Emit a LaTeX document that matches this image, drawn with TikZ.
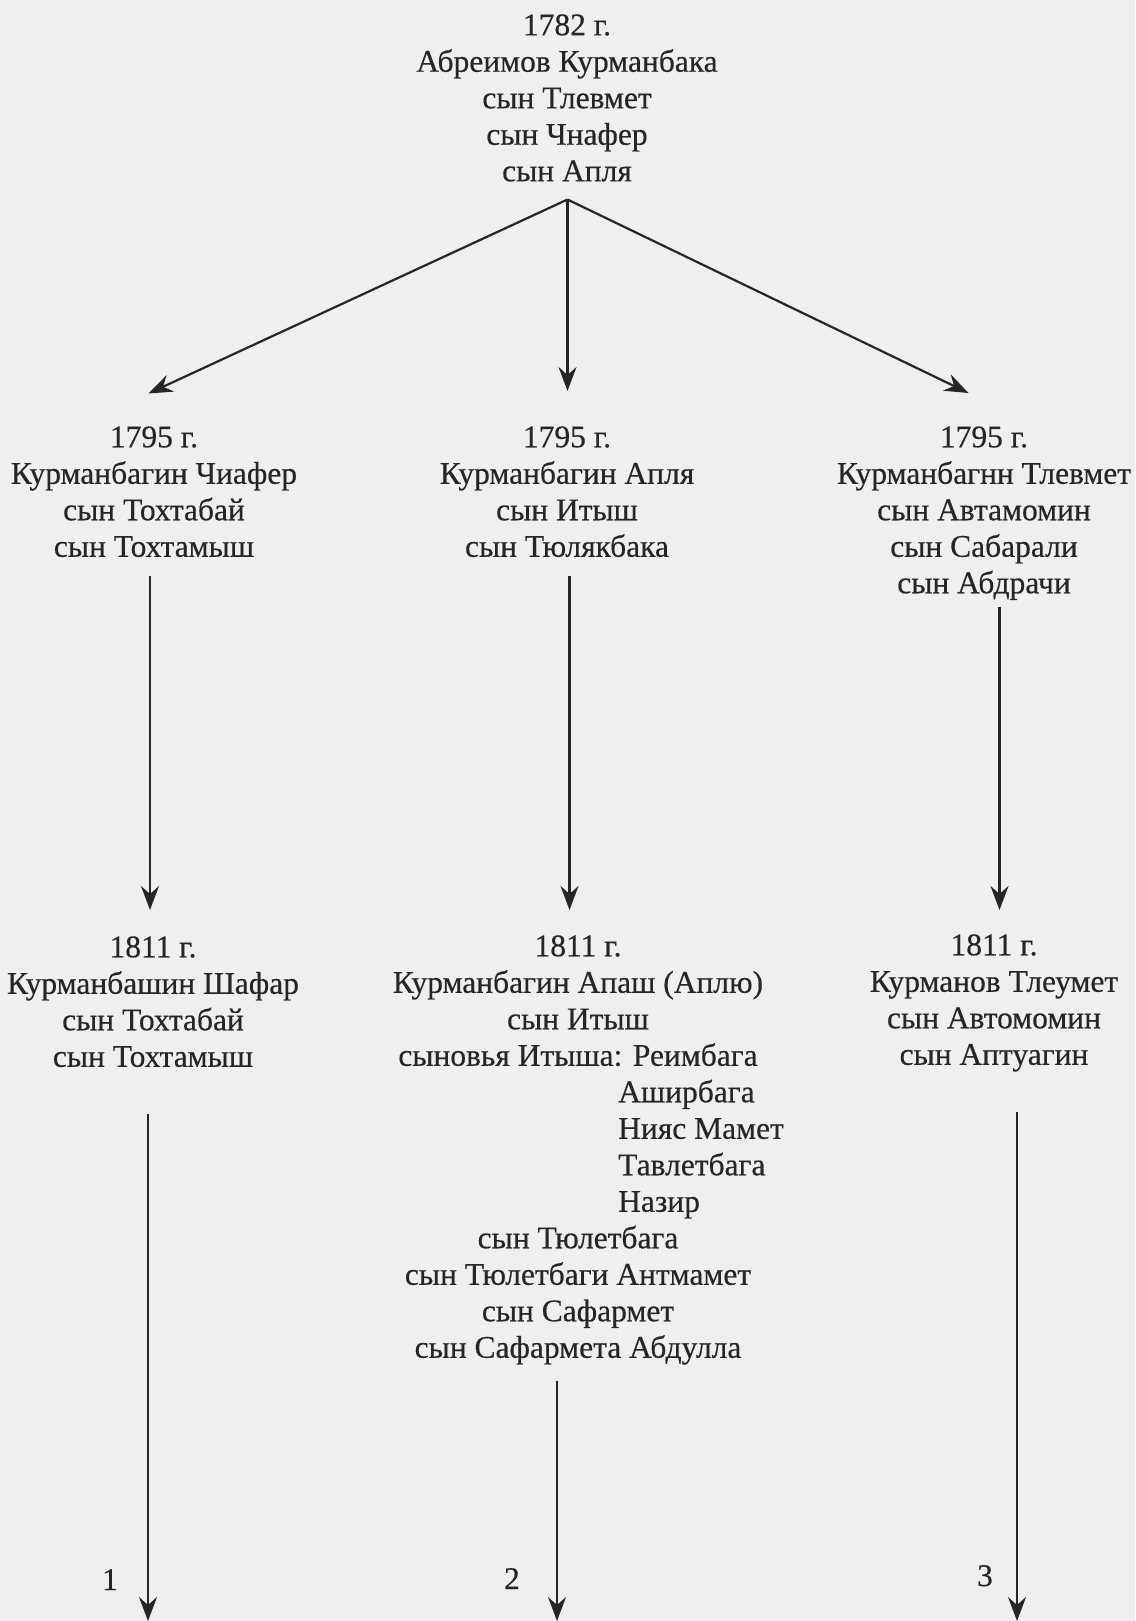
\documentclass[tikz,border=0pt]{standalone}
\usepackage{fontspec}
\setmainfont{Liberation Serif}[FakeBold=0.4]
\usetikzlibrary{arrows.meta}
\definecolor{bg}{HTML}{EFEFEF}
\definecolor{ink}{HTML}{262626}
\newcommand\fz{\fontsize{31.5}{36.5}\selectfont}
\tikzset{
 txt/.style={inner sep=0pt, anchor=north, align=center, font=\fz, text=ink},
 lbl/.style={inner sep=0pt, anchor=base, font=\fz, text=ink},
 arr/.style={draw=ink, line width=2.2pt, -{Stealth[length=24pt,width=18pt,inset=8pt]}},
}
\begin{document}
\begin{tikzpicture}[x=1pt,y=-1pt]
\fill[bg] (0,0) rectangle (1135,1621);
\useasboundingbox (0,0) rectangle (1135,1621);

\node[txt] (top) at (567,9.5) {\strut 1782 г.\\Абреимов Курманбака\\сын Тлевмет\\сын Чнафер\\сын Апля};

\node[txt] (b1) at (154,421.5) {\strut 1795 г.\\Курманбагин Чиафер\\сын Тохтабай\\сын Тохтамыш};
\node[txt] (b2) at (567,421.5) {\strut 1795 г.\\Курманбагин Апля\\сын Итыш\\сын Тюлякбака};
\node[txt] (b3) at (984,421.5) {\strut 1795 г.\\Курманбагнн Тлевмет\\сын Автамомин\\сын Сабарали\\сын Абдрачи};

\node[txt] (c1) at (153,931.5) {\strut 1811 г.\\Курманбашин Шафар\\сын Тохтабай\\сын Тохтамыш};
\node[txt] (c2) at (578,930.5) {\strut 1811 г.\\Курманбагин Апаш (Аплю)\\сын Итыш\\сыновья Итыша: Реимбага};
\node[txt, anchor=north west, align=left] (c2s) at (618,1076.5) {\strut Аширбага\\Нияс Мамет\\Тавлетбага\\Назир};
\node[txt] (c2e) at (578,1222.5) {\strut сын Тюлетбага\\сын Тюлетбаги Антмамет\\сын Сафармет\\сын Сафармета Абдулла};
\node[txt] (c3) at (994,929.5) {\strut 1811 г.\\Курманов Тлеумет\\сын Автомомин\\сын Аптуагин};

\coordinate (r0) at (567.5,199.5);
\coordinate (t1) at (148.5,393.5);
\coordinate (t2) at (567.5,391);
\coordinate (t3) at (968.5,393);
\draw[arr] (r0) -- (t1);
\draw[arr] (r0) -- (t2);
\draw[arr] (r0) -- (t3);

\coordinate (s1) at (150,576);   \coordinate (e1) at (150,910);
\coordinate (s2) at (569.5,576); \coordinate (e2) at (569.5,910);
\coordinate (s3) at (999.5,607); \coordinate (e3) at (999.5,910);
\draw[arr] (s1) -- (e1);
\draw[arr] (s2) -- (e2);
\draw[arr] (s3) -- (e3);

\coordinate (u1) at (148,1114);  \coordinate (d1) at (148,1621);
\coordinate (u2) at (557,1381);  \coordinate (d2) at (557,1621);
\coordinate (u3) at (1017,1112); \coordinate (d3) at (1017,1621);
\draw[arr] (u1) -- (d1);
\draw[arr] (u2) -- (d2);
\draw[arr] (u3) -- (d3);

\node[lbl] (n1) at (110,1590) {1};
\node[lbl] (n2) at (512,1589) {2};
\node[lbl] (n3) at (985,1586) {3};
\end{tikzpicture}
\end{document}
